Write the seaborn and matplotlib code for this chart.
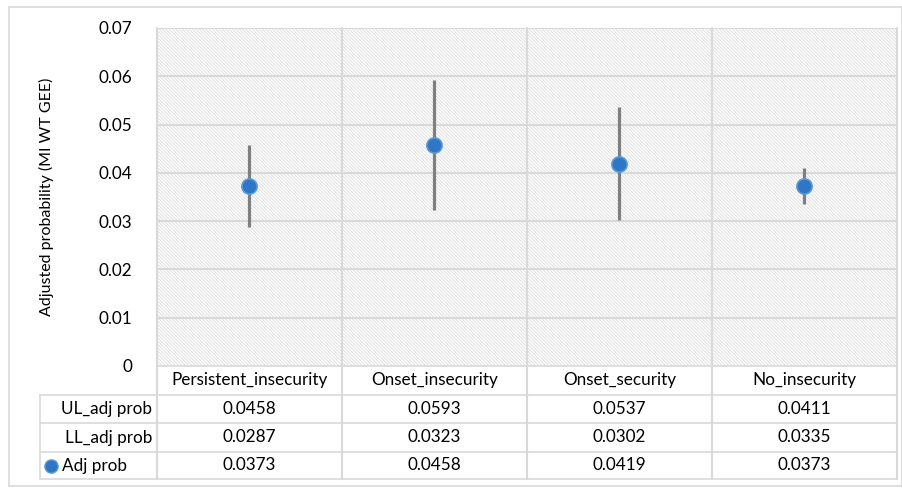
import matplotlib
matplotlib.use("Agg")
import matplotlib.pyplot as plt
import matplotlib.transforms as mtransforms
from matplotlib.patches import Rectangle
import seaborn as sns
import pandas as pd

categories = ["Persistent_insecurity", "Onset_insecurity", "Onset_security", "No_insecurity"]
ul_adj_prob = [0.0458, 0.0593, 0.0537, 0.0411]
ll_adj_prob = [0.0287, 0.0323, 0.0302, 0.0335]
adj_prob = [0.0373, 0.0458, 0.0419, 0.0373]
row_labels = ["UL_adj prob", "LL_adj prob", "Adj prob"]
yticks = [0, 0.01, 0.02, 0.03, 0.04, 0.05, 0.06, 0.07]

sns.set_style("white")
plt.rcParams['font.family'] = ['Lato', 'DejaVu Sans']
plt.rcParams['hatch.linewidth'] = 0.6

grid_col = '#d9d9d9'
hatch_col = '#dcdcdc'
blue = '#2f77c6'
txt = '#000000'
fs = 12.3

df = pd.DataFrame({"Category": categories, "Adj prob": adj_prob})

fig = plt.figure(figsize=(9.03, 4.88), dpi=100)
ax = fig.add_axes([157 / 903, 1 - 366 / 488, 740 / 903, 338 / 488])

# hatched plot area
ax.add_patch(Rectangle((0, 0), 1, 1, transform=ax.transAxes, facecolor='white',
                       edgecolor=hatch_col, linewidth=0, hatch='\\' * 10, zorder=0))

ax.vlines(range(len(categories)), ll_adj_prob, ul_adj_prob, color='#7f7f7f', lw=2.3, zorder=3)
sns.scatterplot(data=df, x="Category", y="Adj prob", ax=ax, s=120, color=blue,
                edgecolor='#5b9bd5', linewidth=1.2, zorder=4, legend=False)

ax.set_xlim(-0.5, len(categories) - 0.5)
ax.set_ylim(0, 0.07)
ax.set_yticks(yticks)
ax.set_yticklabels([f"{t:g}" for t in yticks], fontsize=fs, color=txt)
ax.set_xticks([])
ax.set_xlabel("")
ax.set_ylabel("Adjusted probability (MI WT GEE)", fontsize=11.5, color=txt, labelpad=32)
ax.tick_params(axis='y', length=0, pad=18)
for s in ax.spines.values():
    s.set_visible(False)
for t in yticks[1:]:
    ax.axhline(t, color=grid_col, lw=1.5, zorder=1)

# table below the plot: x in data, y in axes fraction
tr = mtransforms.blended_transform_factory(ax.transData, ax.transAxes)
row_edges = [0, -29 / 338, -57 / 338, -86 / 338, -113 / 338]
left_edge = -0.5 - 117 * 4 / 740
px = 4 / 740
for i in range(len(categories) + 1):
    ax.plot([i - 0.5, i - 0.5], [row_edges[-1], 1], transform=tr, color=grid_col,
            lw=1.5, clip_on=False, zorder=1)
ax.plot([left_edge, left_edge], [row_edges[1], row_edges[-1]], transform=tr,
        color=grid_col, lw=1.2, clip_on=False)
ax.plot([-0.5, len(categories) - 0.5], [0, 0], transform=tr, color=grid_col, lw=1.2, clip_on=False)
for y in row_edges[1:]:
    ax.plot([left_edge, len(categories) - 0.5], [y, y], transform=tr, color=grid_col,
            lw=1.2, clip_on=False)

def mid(k):
    return (row_edges[k] + row_edges[k + 1]) / 2

for i, c in enumerate(categories):
    ax.text(i, mid(0), c, transform=tr, ha='center', va='center', fontsize=fs, color=txt)
rows = [ul_adj_prob, ll_adj_prob, adj_prob]
for r, (lab, vals) in enumerate(zip(row_labels, rows)):
    if r < 2:
        ax.text(-0.5 - 5 * px, mid(r + 1), lab, transform=tr, ha='right', va='center',
                fontsize=fs, color=txt)
    else:
        ax.text(left_edge + 22 * px, mid(r + 1), lab, transform=tr, ha='left', va='center',
                fontsize=fs, color=txt)
    for i, v in enumerate(vals):
        ax.text(i, mid(r + 1), f"{v:.4f}", transform=tr, ha='center', va='center',
                fontsize=fs, color=txt)
ax.plot([left_edge + 11 * px], [mid(3)], transform=tr, marker='o', ms=9.5, color=blue,
        mec='#5b9bd5', mew=1.0, clip_on=False)

# outer chart border
fig.patches.append(Rectangle((9 / 903, 1 - 486 / 488), 893 / 903, 479 / 488,
                             transform=fig.transFigure, fill=False, edgecolor='#d9d9d9', lw=1.2))

fig.savefig("out.png", dpi=100)
